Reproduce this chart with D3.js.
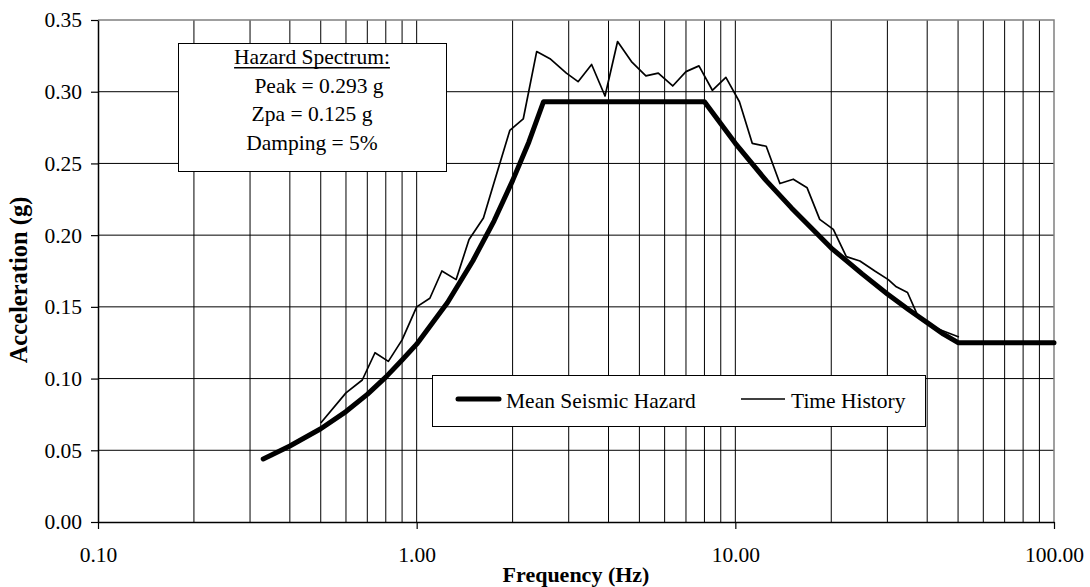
<!DOCTYPE html>
<html>
<head>
<meta charset="utf-8">
<script src="https://cdn.jsdelivr.net/npm/d3@7"></script>
<style>
  body { margin: 0; background: #fff; }
  svg text { font-family: "Liberation Serif", "Times New Roman", serif; fill: #000; }
</style>
</head>
<body>
<div id="chart"></div>
<script>
// Mean seismic hazard spectrum
var hazardFreq = [0.33, 0.4, 0.5, 0.6, 0.7, 0.8, 0.9, 1.0, 1.25, 1.5, 1.75, 2.0, 2.25, 2.5,
  8, 10, 12.5, 15, 20, 25, 30, 35, 40, 45, 50, 100];
var hazardAcc = [0.044, 0.053, 0.065, 0.077, 0.089, 0.101, 0.113, 0.124, 0.153, 0.182, 0.210, 0.238, 0.265, 0.293,
  0.293, 0.264, 0.238, 0.219, 0.191, 0.173, 0.159, 0.148, 0.139, 0.131, 0.125, 0.125];

// Time history response spectrum
var thFreq = [0.5, 0.6, 0.675, 0.74, 0.815, 0.9, 1.0, 1.1, 1.2, 1.33, 1.46, 1.62, 1.74, 1.96, 2.16, 2.38,
  2.62, 2.95, 3.21, 3.54, 3.9, 4.27, 4.72, 5.24, 5.73, 6.36, 7.0, 7.69, 8.47, 9.34, 10.3, 11.3,
  12.5, 13.8, 15.2, 16.8, 18.4, 20.3, 22.3, 24.6, 27.4, 30.2, 32, 34.7, 37.5, 39.8, 43.9, 50.3];
var thAcc = [0.069, 0.090, 0.099, 0.118, 0.112, 0.127, 0.150, 0.156, 0.175, 0.169, 0.197, 0.212, 0.235, 0.273, 0.281, 0.328,
  0.323, 0.313, 0.307, 0.319, 0.297, 0.335, 0.321, 0.311, 0.313, 0.304, 0.314, 0.318, 0.301, 0.310, 0.293, 0.264,
  0.262, 0.236, 0.239, 0.233, 0.211, 0.204, 0.185, 0.182, 0.175, 0.169, 0.164, 0.160, 0.143, 0.139, 0.134, 0.129];

var xTicks = [0.1, 1, 10, 100];
var yTicks = [0, 0.05, 0.10, 0.15, 0.20, 0.25, 0.30, 0.35];
var boxLines = ["Hazard Spectrum:", "Peak = 0.293 g", "Zpa = 0.125 g", "Damping = 5%"];
var legendNames = ["Mean Seismic Hazard", "Time History"];

// Settings
var width = 1090;
var height = 587;
var margin = {top: 20, right: 36, bottom: 65, left: 98};
var fontSize = 21.5;

var svg = d3.select('#chart')
  .append('svg')
  .attr('width', width)
  .attr('height', height);

var x = d3.scaleLog().domain([0.1, 100]).range([margin.left, width - margin.right]);
var y = d3.scaleLinear().domain([0, 0.35]).range([height - margin.bottom, margin.top]);

var x0 = x.range()[0], x1 = x.range()[1];
var y0 = y.range()[0], y1 = y.range()[1];

// Grid
svg.append('g').selectAll('line')
  .data(x.ticks().filter(function(d) { return d > 0.1 && d < 100; }))
  .enter().append('line')
  .attr('x1', function(d) { return x(d); })
  .attr('x2', function(d) { return x(d); })
  .attr('y1', y1).attr('y2', y0)
  .attr('stroke', '#000').attr('stroke-width', 1);

svg.append('g').selectAll('line')
  .data(yTicks.filter(function(d) { return d > 0 && d < 0.35; }))
  .enter().append('line')
  .attr('x1', x0).attr('x2', x1)
  .attr('y1', function(d) { return y(d); })
  .attr('y2', function(d) { return y(d); })
  .attr('stroke', '#000').attr('stroke-width', 1);

// top/right border
svg.append('path')
  .attr('d', 'M' + x0 + ',' + y1 + 'H' + x1 + 'V' + y0)
  .attr('fill', 'none').attr('stroke', '#808080').attr('stroke-width', 1.5);

// Axes
var yAxis = svg.append('g')
  .attr('transform', 'translate(' + x0 + ',0)')
  .call(d3.axisLeft(y).tickValues(yTicks).tickFormat(d3.format('.2f')).tickSize(7).tickPadding(9).tickSizeOuter(0));
var xAxis = svg.append('g')
  .attr('transform', 'translate(0,' + y0 + ')')
  .call(d3.axisBottom(x).tickValues(xTicks).tickFormat(d3.format('.2f')).tickSize(7).tickPadding(18).tickSizeOuter(0));

[xAxis, yAxis].forEach(function(a) {
  a.select('.domain').attr('stroke', '#000').attr('stroke-width', 1.5);
  a.selectAll('.tick line').attr('stroke', '#000').attr('stroke-width', 1.2);
  a.selectAll('.tick text')
    .style('font-family', '"Liberation Serif", serif')
    .style('font-size', fontSize + 'px');
});

// Lines
var line = d3.line()
  .x(function(d) { return x(d[0]); })
  .y(function(d) { return y(d[1]); });

svg.append('path')
  .datum(d3.zip(thFreq, thAcc))
  .attr('d', line)
  .attr('fill', 'none')
  .attr('stroke', '#000')
  .attr('stroke-width', 1.7)
  .attr('stroke-linejoin', 'round');

svg.append('path')
  .datum(d3.zip(hazardFreq, hazardAcc))
  .attr('d', line)
  .attr('fill', 'none')
  .attr('stroke', '#000')
  .attr('stroke-width', 5)
  .attr('stroke-linejoin', 'round')
  .attr('stroke-linecap', 'round');

// Hazard spectrum box
var box = svg.append('g');
box.append('rect')
  .attr('x', 178.5).attr('y', 43.5).attr('width', 268).attr('height', 128)
  .attr('fill', '#fff').attr('stroke', '#000').attr('stroke-width', 1);

box.selectAll('text')
  .data(boxLines)
  .enter().append('text')
  .attr('x', function(d, i) { return i === 1 ? 319 : 312; })
  .attr('y', function(d, i) { return 64.3 + i * 28.4; })
  .attr('text-anchor', 'middle')
  .style('font-size', fontSize + 'px')
  .text(function(d) { return d; });

var hb = box.select('text').node().getBBox();
box.append('line')
  .attr('x1', hb.x).attr('x2', hb.x + hb.width)
  .attr('y1', 67.8).attr('y2', 67.8)
  .attr('stroke', '#000').attr('stroke-width', 1.5);

// Legend
var legend = svg.append('g');
legend.append('rect')
  .attr('x', 432.5).attr('y', 375.5).attr('width', 493).attr('height', 51)
  .attr('fill', '#fff').attr('stroke', '#000').attr('stroke-width', 1);

legend.append('line')
  .attr('x1', 458).attr('x2', 499).attr('y1', 399).attr('y2', 399)
  .attr('stroke', '#000').attr('stroke-width', 5).attr('stroke-linecap', 'round');
legend.append('line')
  .attr('x1', 741).attr('x2', 785).attr('y1', 399).attr('y2', 399)
  .attr('stroke', '#000').attr('stroke-width', 1.7);

legend.selectAll('text')
  .data(legendNames)
  .enter().append('text')
  .attr('x', function(d, i) { return i === 0 ? 506 : 791; })
  .attr('y', 407.7)
  .style('font-size', fontSize + 'px')
  .text(function(d) { return d; });

// Axis titles
svg.append('text')
  .attr('x', (x0 + x1) / 2)
  .attr('y', 582)
  .attr('text-anchor', 'middle')
  .style('font-size', '22px')
  .style('font-weight', 'bold')
  .text('Frequency (Hz)');

svg.append('text')
  .attr('transform', 'translate(27,280) rotate(-90)')
  .attr('text-anchor', 'middle')
  .style('font-size', '24.5px')
  .style('font-weight', 'bold')
  .text('Acceleration (g)');
</script>
</body>
</html>
